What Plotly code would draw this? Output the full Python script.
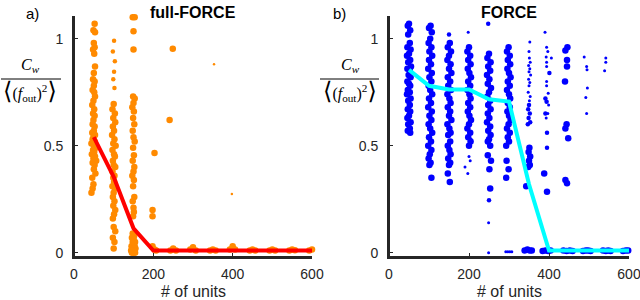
import plotly.graph_objects as go

# ---------------- data: panel a) full-FORCE ----------------
N_units = [50, 100, 150, 200, 250, 300, 350, 400, 450, 500, 550, 600]
ff_mean = [0.54, 0.355, 0.114, 0.01, 0.01, 0.01, 0.01, 0.01, 0.01, 0.01, 0.01, 0.01]

ff_big_x = [52, 49, 53, 50, 52, 48, 51, 53, 50, 48, 52, 50, 47, 51, 53, 49, 46, 51, 48, 52, 49, 47, 52, 50, 46, 53, 49, 47, 52, 44, 50, 55, 48, 51, 45, 53, 49, 56, 47, 52, 50, 54, 46, 49, 47, 44,
            100, 97, 103, 99, 104, 98, 101, 96, 102, 99, 105, 97, 101, 103, 98, 100, 104, 97, 102, 99, 101, 97, 103, 100, 98, 102, 99, 104, 101, 98, 100, 104, 98, 102, 100,
            148, 153, 150, 150, 149, 153, 150, 147, 151, 149, 152, 148, 150, 153, 149, 151, 148, 152, 150, 147, 151, 149, 152, 148, 150, 151, 149, 148, 152, 146, 151, 154, 148, 150, 145, 153, 149, 155, 147, 151, 144, 150, 146, 154,
            203, 198, 198, 249, 241,
            198, 203, 207, 243, 250, 257, 293, 300, 307, 343, 350, 357, 393, 400, 406, 443, 450, 457, 493, 500, 507, 543, 550, 557, 593, 600, 606]
ff_big_y = [1.07, 1.04, 1.03, 0.98, 0.96, 0.95, 0.93, 0.87, 0.84, 0.81, 0.80, 0.78, 0.76, 0.75, 0.73, 0.71, 0.69, 0.67, 0.65, 0.64, 0.62, 0.60, 0.59, 0.57, 0.56, 0.55, 0.54, 0.53, 0.52, 0.51, 0.50, 0.49, 0.48, 0.47, 0.46, 0.45, 0.44, 0.43, 0.42, 0.41, 0.39, 0.37, 0.35, 0.32, 0.30, 0.28,
            0.695, 0.67, 0.65, 0.63, 0.61, 0.59, 0.57, 0.55, 0.53, 0.51, 0.50, 0.48, 0.46, 0.45, 0.43, 0.41, 0.40, 0.38, 0.36, 0.35, 0.33, 0.31, 0.30, 0.28, 0.26, 0.24, 0.22, 0.20, 0.18, 0.16, 0.12, 0.10, 0.07, 0.05, 0.02,
            1.10, 1.10, 1.035, 0.95, 0.73, 0.72, 0.70, 0.68, 0.66, 0.63, 0.60, 0.57, 0.54, 0.52, 0.49, 0.455, 0.43, 0.40, 0.38, 0.36, 0.34, 0.31, 0.26, 0.24, 0.21, 0.19, 0.17, 0.09, 0.08, 0.07, 0.06, 0.05, 0.05, 0.04, 0.03, 0.03, 0.02, 0.02, 0.01, 0.01, 0.01, 0.0, 0.0, 0.0,
            0.466, 0.20, 0.17, 0.953, 0.62,
            0.03, 0.015, 0.01, 0.01, 0.02, 0.01, 0.015, 0.025, 0.01, 0.01, 0.015, 0.01, 0.015, 0.03, 0.015, 0.01, 0.015, 0.01, 0.01, 0.015, 0.01, 0.01, 0.015, 0.012, 0.01, 0.015, 0.01]
ff_med_x = [101, 98, 103, 101, 99, 102]
ff_med_y = [0.99, 0.94, 0.895, 0.845, 0.81, 0.77]
ff_small_x = [353, 398]
ff_small_y = [0.88, 0.274]

# ---------------- data: panel b) FORCE ----------------
fo_mean = [0.854, 0.78, 0.763, 0.763, 0.717, 0.706, 0.32, 0.01, 0.01, 0.01, 0.01, 0.01]

fo_big_x = [50, 47, 53, 48, 52, 46, 54, 50, 45, 53, 48, 55, 46, 52, 49, 54, 46, 50, 53, 47, 52, 45, 54, 48, 52, 47, 53, 50, 46, 54, 48, 52, 47, 53,
            104, 100, 107, 103, 99, 106, 101, 108, 100, 105, 98, 107, 101, 106, 99, 103, 108, 100, 105, 98, 107, 101, 106, 99, 103, 108, 100, 105, 98, 106, 102, 99, 104, 101, 106,
            152, 147, 155, 150, 146, 154, 150, 156, 147, 153, 148, 155, 146, 151, 154, 147, 153, 150, 156, 146, 151, 154, 148, 153, 147, 151, 154, 148, 153, 150, 147, 152,
            200, 196, 203, 198, 204, 197, 201, 205, 198, 203, 196, 201, 204, 198, 203, 197, 201, 205, 200, 196, 203, 198, 204, 200,
            250, 246, 254, 248, 253, 245, 251, 247, 255, 250, 246, 253, 248, 254, 247, 251, 245, 253, 248, 254, 250, 247, 253, 247, 255, 251, 253,
            299, 295, 302, 297, 303, 296, 300, 304, 297, 302, 295, 300, 303, 297, 302, 296, 300, 304, 299, 295, 302, 297, 300, 293, 294, 299, 293,
            351, 349, 353, 350, 352, 348, 343, 339, 346, 352, 357,
            388, 395,
            446, 441, 445, 445, 440, 444, 441, 448, 441, 445,
            384, 391, 398, 404, 436, 444, 452, 459, 485, 492, 498, 504, 535, 542, 548, 554, 585, 592, 598, 603]
fo_big_y = [1.07, 1.06, 1.04, 1.02, 0.98, 0.96, 0.95, 0.93, 0.92, 0.90, 0.89, 0.87, 0.86, 0.85, 0.83, 0.82, 0.80, 0.79, 0.78, 0.76, 0.75, 0.74, 0.72, 0.71, 0.69, 0.67, 0.66, 0.64, 0.63, 0.61, 0.60, 0.58, 0.57, 0.56,
            1.06, 1.05, 1.03, 1.0, 0.98, 0.96, 0.94, 0.92, 0.90, 0.88, 0.86, 0.84, 0.82, 0.80, 0.78, 0.76, 0.74, 0.72, 0.70, 0.68, 0.66, 0.64, 0.62, 0.60, 0.58, 0.56, 0.54, 0.52, 0.50, 0.48, 0.46, 0.44, 0.42, 0.41, 0.35,
            0.98, 0.96, 0.94, 0.92, 0.90, 0.88, 0.86, 0.84, 0.82, 0.80, 0.78, 0.76, 0.74, 0.72, 0.70, 0.68, 0.66, 0.64, 0.62, 0.60, 0.58, 0.56, 0.55, 0.52, 0.50, 0.48, 0.46, 0.44, 0.42, 0.41, 0.37, 0.33,
            0.96, 0.94, 0.92, 0.90, 0.88, 0.86, 0.84, 0.82, 0.80, 0.78, 0.76, 0.74, 0.72, 0.70, 0.68, 0.66, 0.64, 0.62, 0.60, 0.58, 0.56, 0.54, 0.52, 0.50,
            0.93, 0.91, 0.89, 0.87, 0.85, 0.83, 0.81, 0.79, 0.77, 0.75, 0.73, 0.71, 0.69, 0.67, 0.65, 0.63, 0.61, 0.59, 0.57, 0.55, 0.53, 0.52, 0.50, 0.455, 0.43, 0.39, 0.30,
            0.96, 0.94, 0.92, 0.90, 0.88, 0.86, 0.84, 0.82, 0.80, 0.78, 0.76, 0.74, 0.72, 0.70, 0.68, 0.66, 0.64, 0.62, 0.60, 0.58, 0.56, 0.54, 0.52, 0.50, 0.43, 0.39, 0.35,
            0.49, 0.47, 0.45, 0.43, 0.41, 0.40, 0.31, 0.01, 0.015, 0.01, 0.01,
            0.37, 0.285,
            0.96, 0.945, 0.90, 0.87, 0.80, 0.60, 0.58, 0.535, 0.34, 0.325,
            0.008, 0.01, 0.008, 0.01, 0.01, 0.008, 0.01, 0.008, 0.008, 0.01, 0.01, 0.008, 0.01, 0.008, 0.01, 0.008, 0.008, 0.01, 0.01, 0.008]
fo_med_x = [150, 248, 250, 350, 348, 352, 349, 353, 347, 401, 391, 394, 391, 395, 395]
fo_med_y = [1.02, 1.07, 0.245, 0.69, 0.67, 0.65, 0.63, 0.61, 0.60, 0.84, 0.72, 0.705, 0.65, 0.56, 0.49]
fo_small_x = [198, 200, 203, 190, 197, 205, 249, 249, 292, 297, 302, 307,
              352, 350, 351, 353, 349, 352, 350, 354, 349, 352, 350, 348, 353, 351,
              390, 394, 397, 406, 393, 394, 394, 394, 394, 398, 399, 397, 393,
              488, 494, 495, 496, 492, 494, 542, 542, 539]
fo_small_y = [1.03, 0.45, 0.43, 0.40, 0.37, 0.53, 0.14, 0.0, 0.005, 0.005, 0.005, 0.005,
              0.985, 0.94, 0.91, 0.89, 0.875, 0.86, 0.845, 0.83, 0.81, 0.795, 0.78, 0.75, 0.73, 0.71,
              1.03, 0.96, 0.94, 0.91, 0.915, 0.89, 0.87, 0.80, 0.78, 0.745, 0.69, 0.65, 0.63,
              0.915, 0.87, 0.855, 0.77, 0.725, 0.65, 0.91, 0.89, 0.85]

x_ticks = [0, 200, 400, 600]
y_ticks = [0, 0.5, 1]
y_tick_text = ["0", "0.5", "1"]

ORANGE = "#ff8a00"
BLUE = "#0000ff"

fig = go.Figure()

def pts(x, y, color, size, xa, ya):
    fig.add_trace(go.Scatter(x=x, y=y, mode="markers", xaxis=xa, yaxis=ya,
                             marker=dict(color=color, size=size, line=dict(width=0)),
                             cliponaxis=False, showlegend=False, hoverinfo="skip"))

pts(ff_big_x, ff_big_y, ORANGE, 6.5, "x", "y")
pts(ff_med_x, ff_med_y, ORANGE, 4.5, "x", "y")
pts(ff_small_x, ff_small_y, ORANGE, 2.5, "x", "y")
fig.add_trace(go.Scatter(x=N_units, y=ff_mean, mode="lines", xaxis="x", yaxis="y",
                         line=dict(color="#ff0000", width=4), cliponaxis=False,
                         showlegend=False, hoverinfo="skip"))

pts(fo_big_x, fo_big_y, BLUE, 6.5, "x2", "y2")
pts(fo_med_x, fo_med_y, BLUE, 4.5, "x2", "y2")
pts(fo_small_x, fo_small_y, BLUE, 3, "x2", "y2")
fig.add_trace(go.Scatter(x=N_units, y=fo_mean, mode="lines", xaxis="x2", yaxis="y2",
                         line=dict(color="#00ffff", width=4), cliponaxis=False,
                         showlegend=False, hoverinfo="skip"))

AX = "#262626"
SANS = "Liberation Sans, Arial, sans-serif"
tickfont = dict(family=SANS, size=14, color=AX)
xcommon = dict(range=[0, 600], tickvals=x_ticks, ticks="inside", ticklen=4, tickwidth=1,
               tickcolor=AX, showline=True, linecolor=AX, linewidth=2, showgrid=False,
               zeroline=False, tickfont=tickfont, ticklabelstandoff=3, automargin=False,
               ticklabeloverflow="allow")
ycommon = dict(range=[-0.02, 1.106], tickvals=y_ticks, ticktext=y_tick_text, ticks="inside",
               ticklen=4, tickwidth=1, tickcolor=AX, showline=True, linecolor=AX, linewidth=2,
               showgrid=False, zeroline=False, tickfont=tickfont, ticklabelstandoff=6,
               automargin=False, ticklabeloverflow="allow")

XD1 = [74/640, 312/640]
XD2 = [389/640, 629/640]
YD = [43/300, 284/300]

fig.update_layout(
    width=640, height=300, margin=dict(l=0, r=0, t=0, b=0, pad=0),
    paper_bgcolor="white", plot_bgcolor="white",
    xaxis=dict(domain=XD1, anchor="y", **xcommon),
    yaxis=dict(domain=YD, anchor="x", **ycommon),
    xaxis2=dict(domain=XD2, anchor="y2", **xcommon),
    yaxis2=dict(domain=YD, anchor="x2", **ycommon),
)

# explicit axis lines (left and bottom only, box off)
for xd in (XD1, XD2):
    fig.add_shape(type="line", xref="paper", yref="paper", x0=xd[0], x1=xd[0], y0=YD[0], y1=YD[1],
                  line=dict(color=AX, width=2), layer="below")
    fig.add_shape(type="line", xref="paper", yref="paper", x0=xd[0], x1=xd[1], y0=YD[0], y1=YD[0],
                  line=dict(color=AX, width=2), layer="below")

def ann(text, x, y, size, bold=False, family=SANS, color="black"):
    fig.add_annotation(text=("<b>%s</b>" % text) if bold else text, x=x/640, y=1-y/300,
                       xref="paper", yref="paper", showarrow=False,
                       font=dict(family=family, size=size, color=color),
                       xanchor="center", yanchor="middle")

ann("a)", 32, 13, 15)
ann("b)", 339, 13, 15)
ann("full-FORCE", 193, 12, 16, bold=True)
ann("FORCE", 509, 12, 16, bold=True)
ann("# of units", 193, 291, 16, color=AX)
ann("# of units", 509, 291, 16, color=AX)

serif = "Liberation Serif, DejaVu Serif, serif"
num = "<i>C</i><sub><i>w</i></sub>"
den = "<span style='font-size:24px'>⟨</span>(<i>f</i><sub>out</sub>)<sup>2</sup><span style='font-size:24px'>⟩</span>"
for cx, x0, x1 in [(30, 1, 61), (350, 320, 379)]:
    ann(num, cx, 66, 16, family=serif)
    ann(den, cx, 91, 16, family=serif)
    fig.add_shape(type="line", xref="paper", yref="paper", x0=x0/640, x1=x1/640,
                  y0=1-79/300, y1=1-79/300, line=dict(color="black", width=1))

fig.write_html("out.html", config={"displayModeBar": False},
               post_script="document.body.style.margin='0px';")
